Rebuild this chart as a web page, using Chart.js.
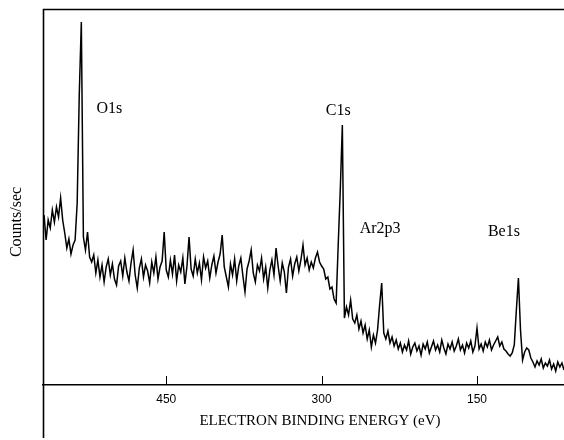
<!DOCTYPE html>
<html>
<head>
<meta charset="utf-8">
<title>XPS survey spectrum</title>
<script src="https://cdn.jsdelivr.net/npm/chart.js@4.4.0/dist/chart.umd.min.js"></script>
<style>
    html, body { margin: 0; padding: 0; background: #fff; }
</style>
</head>
<body>
<canvas id="chartXps" width="564" height="440"></canvas>
<script>
// binding energy (eV), every 2 eV
const energy = [
    568, 566, 564, 562, 560, 558, 556, 554, 552, 550, 548, 546, 544, 542, 540, 538, 536, 534, 532, 530,
    528, 526, 524, 522, 520, 518, 516, 514, 512, 510, 508, 506, 504, 502, 500, 498, 496, 494, 492, 490,
    488, 486, 484, 482, 480, 478, 476, 474, 472, 470, 468, 466, 464, 462, 460, 458, 456, 454, 452, 450,
    448, 446, 444, 442, 440, 438, 436, 434, 432, 430, 428, 426, 424, 422, 420, 418, 416, 414, 412, 410,
    408, 406, 404, 402, 400, 398, 396, 394, 392, 390, 388, 386, 384, 382, 380, 378, 376, 374, 372, 370,
    368, 366, 364, 362, 360, 358, 356, 354, 352, 350, 348, 346, 344, 342, 340, 338, 336, 334, 332, 330,
    328, 326, 324, 322, 320, 318, 316, 314, 312, 310, 308, 306, 304, 302, 300, 298, 296, 294, 292, 290,
    288, 286, 284, 282, 280, 278, 276, 274, 272, 270, 268, 266, 264, 262, 260, 258, 256, 254, 252, 250,
    248, 246, 244, 242, 240, 238, 236, 234, 232, 230, 228, 226, 224, 222, 220, 218, 216, 214, 212, 210,
    208, 206, 204, 202, 200, 198, 196, 194, 192, 190, 188, 186, 184, 182, 180, 178, 176, 174, 172, 170,
    168, 166, 164, 162, 160, 158, 156, 154, 152, 150, 148, 146, 144, 142, 140, 138, 136, 134, 132, 130,
    128, 126, 124, 122, 120, 118, 116, 114, 112, 110, 108, 106, 104, 102, 100, 98, 96, 94, 92, 90,
    88, 86, 84, 82, 80, 78, 76, 74, 72, 70, 68, 66
]

// counts/sec, arbitrary units (no scale printed on the original)
const counts = [
    170, 145, 165, 157, 175, 163, 178, 168, 187, 165, 152, 137, 146, 131, 140, 145, 182, 290, 363, 148,
    135, 153, 128, 123, 130, 112, 125, 108, 120, 103, 118, 126, 110, 121, 106, 100, 119, 124, 109, 127,
    113, 104, 122, 135, 110, 97, 117, 126, 108, 120, 114, 102, 123, 112, 128, 106, 118, 124, 153, 115,
    108, 125, 111, 130, 104, 120, 113, 127, 101, 119, 148, 116, 109, 126, 112, 122, 105, 128, 117, 124,
    107, 120, 129, 112, 123, 131, 150, 118, 108, 98, 121, 110, 126, 104, 119, 127, 109, 93, 116, 124,
    135, 112, 103, 120, 114, 127, 106, 118, 97, 115, 125, 110, 137, 119, 104, 122, 113, 92, 118, 126,
    109, 121, 128, 114, 125, 140, 120, 127, 115, 123, 117, 127, 133, 123, 119, 116, 106, 108, 96, 98,
    86, 82, 140, 195, 260, 67, 78, 70, 85, 66, 62, 70, 56, 64, 52, 60, 46, 55, 38, 50,
    42, 55, 80, 102, 52, 46, 54, 42, 48, 39, 45, 36, 42, 33, 40, 35, 44, 31, 38, 42,
    34, 39, 30, 41, 36, 43, 32, 38, 44, 35, 40, 33, 45, 37, 31, 41, 36, 43, 34, 39,
    46, 35, 40, 32, 42, 37, 44, 33, 39, 57, 36, 41, 34, 43, 38, 45, 35, 40, 44, 48,
    39, 43, 36, 34, 31, 29, 32, 40, 75, 107, 55, 25, 33, 37, 35, 27, 23, 18, 24, 20,
    26, 17, 22, 19, 25, 16, 21, 14, 23, 18, 22, 15
]

const tickValues = [450, 300, 150]

const peakNames = ["O1s", "C1s", "Ar2p3", "Be1s"]
const peakLabelEnergy = [505, 284, 243.5, 124]
const peakLabelCounts = [276, 274, 156, 153]

const serif = "'Liberation Serif', 'Times New Roman', serif"

const spectrumExtras = {
    id: "spectrumExtras",
    afterDraw(chart) {
        const ctx = chart.ctx
        const area = chart.chartArea
        const xs = chart.scales.x
        const ys = chart.scales.y
        ctx.save()
        ctx.strokeStyle = "#000"

        // open frame: left side runs past the axis to the bottom, top side across
        ctx.lineWidth = 1.6
        ctx.beginPath()
        ctx.moveTo(area.left + 0.5, chart.height - 2)
        ctx.lineTo(area.left + 0.5, area.top + 0.5)
        ctx.lineTo(area.right, area.top + 0.5)
        ctx.stroke()

        // tick marks point up into the plot
        ctx.lineWidth = 1
        tickValues.forEach(function (v) {
            const px = Math.round(xs.getPixelForValue(v)) + 0.5
            ctx.beginPath()
            ctx.moveTo(px, area.bottom)
            ctx.lineTo(px, area.bottom - 9)
            ctx.stroke()
        })

        ctx.fillStyle = "#000"
        ctx.textAlign = "center"
        ctx.textBaseline = "middle"
        ctx.font = "16px " + serif
        peakNames.forEach(function (name, i) {
            ctx.fillText(name, xs.getPixelForValue(peakLabelEnergy[i]), ys.getPixelForValue(peakLabelCounts[i]))
        })

        ctx.font = "15px " + serif
        ctx.fillText("ELECTRON BINDING ENERGY (eV)", 320, 421)

        ctx.translate(17, 222)
        ctx.rotate(-Math.PI / 2)
        ctx.font = "16px " + serif
        ctx.fillText("Counts/sec", 0, 0)
        ctx.restore()
    }
}

const points = energy.map(function (e, i) {
    return { x: e, y: counts[i] }
})

const configSpectrum = {
    type: "line",
    data: {
        datasets: [
            {
                label: "Survey",
                data: points,
                borderColor: "#000",
                borderWidth: 1.5,
                pointRadius: 0,
                tension: 0,
                fill: false,
            },
        ],
    },
    options: {
        responsive: false,
        animation: false,
        layout: { padding: { left: 43, top: 9, right: 0, bottom: 0 } },
        plugins: {
            legend: { display: false },
            tooltip: { enabled: false },
        },
        scales: {
            x: {
                type: "linear",
                reverse: true,
                min: 66,
                max: 569,
                grid: { display: false },
                border: { display: true, color: "#000", width: 1.5 },
                ticks: {
                    color: "#000",
                    padding: -1,
                    font: { family: "'Liberation Sans', Arial, sans-serif", size: 12 },
                },
                afterBuildTicks: function (scale) {
                    scale.ticks = tickValues.map(function (v) { return { value: v } })
                },
                afterFit: function (scale) {
                    scale.height = 55
                },
            },
            y: {
                min: 0,
                max: 376,
                grid: { display: false },
                border: { display: false },
                ticks: { display: false },
                afterFit: function (scale) {
                    scale.width = 0
                },
            },
        },
    },
    plugins: [spectrumExtras],
}

var chartXps = new Chart(document.getElementById("chartXps"), configSpectrum)
</script>
</body>
</html>
